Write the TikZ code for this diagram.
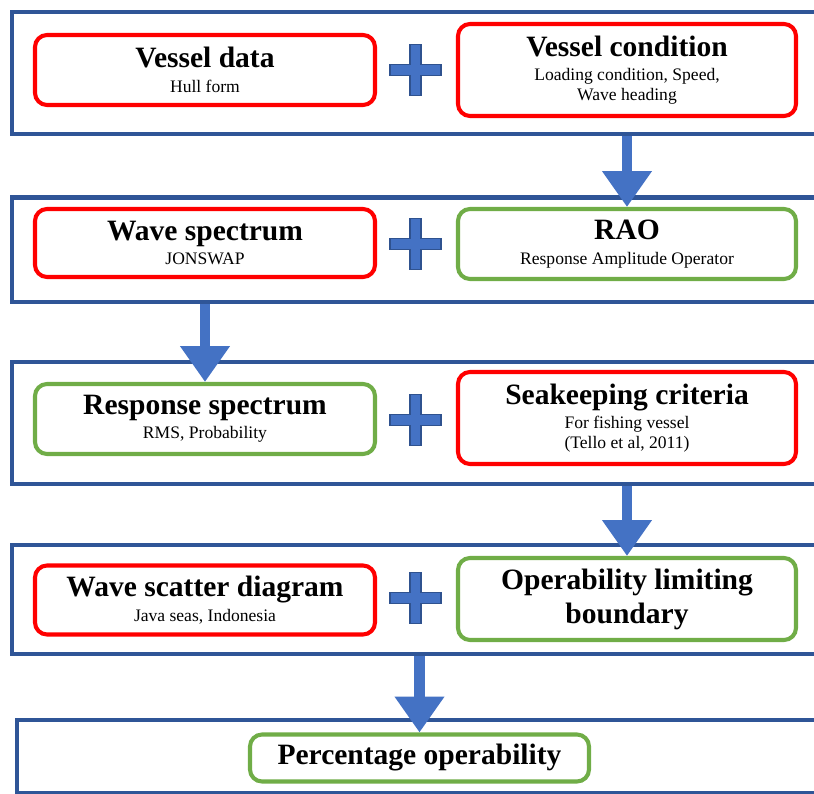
\documentclass[tikz,border=0pt]{standalone}
\usepackage{fontspec}
\setmainfont{Liberation Serif}
\usetikzlibrary{arrows.meta, positioning}
\definecolor{panelblue}{RGB}{47, 85, 151}
\definecolor{flowblue}{RGB}{68, 114, 196}
\definecolor{flowedge}{RGB}{47, 82, 143}
\definecolor{boxred}{RGB}{255, 0, 0}
\definecolor{boxgreen}{RGB}{112, 173, 71}

\newcommand{\hd}[1]{{\fontsize{16.8}{19}\selectfont\bfseries #1}}

\tikzset{
  panel/.style={draw=panelblue, line width=2.3pt, anchor=north west, minimum width=16.5cm, inner sep=0pt},
  inbox/.style={rounded corners=0.24cm, line width=2.3pt, fill=white, align=center, minimum width=6.8cm, inner sep=2pt, font=\fontsize{10}{11.4}\selectfont},
  redbox/.style={inbox, draw=boxred},
  greenbox/.style={inbox, draw=boxgreen},
  flow/.style={draw=flowblue, line width=5.7pt, -{Triangle[width=27pt, length=20.4pt, fill=flowblue]}},
  plussign/.style={fill=flowblue, draw=flowedge, line width=0.6pt}
}

\begin{document}
\begin{tikzpicture}
\useasboundingbox (0,0) rectangle (16.28,-15.88);

% Stage panels
\node[panel, minimum height=2.44cm] (p1) at (0.2,-0.2) {};
\node[panel, minimum height=2.09cm] (p2) at (0.2,-3.91) {};
\node[panel, minimum height=2.44cm] (p3) at (0.2,-7.2) {};
\node[panel, minimum height=2.18cm] (p4) at (0.2,-10.86) {};
\node[panel, minimum height=1.46cm] (p5) at (0.3,-14.36) {};

% Inputs and results
\node[redbox, minimum height=1.4cm] (vdata) at (4.1,-1.4) {\hd{Vessel data}\\[2.5pt]Hull form};
\node[redbox, minimum width=6.76cm, minimum height=1.84cm] (vcond) at (12.54,-1.4) {\hd{Vessel condition}\\[2.5pt]Loading condition, Speed,\\Wave heading};
\node[redbox, minimum height=1.36cm] (wspec) at (4.1,-4.86) {\hd{Wave spectrum}\\[2.5pt]JONSWAP};
\node[greenbox, minimum width=6.76cm, minimum height=1.4cm] (rao) at (12.54,-4.88) {\hd{RAO}\\[2.5pt]Response Amplitude Operator};
\node[greenbox, minimum height=1.4cm] (rspec) at (4.1,-8.38) {\hd{Response spectrum}\\[2.5pt]RMS, Probability};
\node[redbox, minimum width=6.76cm, minimum height=1.84cm] (crit) at (12.54,-8.36) {\hd{Seakeeping criteria}\\[2.5pt]For fishing vessel\\(Tello et al, 2011)};
\node[redbox, minimum height=1.38cm] (scatter) at (4.1,-12.0) {\hd{Wave scatter diagram}\\[2.5pt]Java seas, Indonesia};
\node[greenbox, minimum width=6.76cm, minimum height=1.64cm] (olb) at (12.54,-11.98) {\hd{Operability limiting}\\[3pt]\hd{boundary}};
\node[greenbox, minimum width=6.78cm, minimum height=0.94cm] (perc) at (8.39,-15.16) {\hd{Percentage operability}};

% Plus signs
\foreach \y in {-1.4,-4.88,-8.4,-11.96}
  \filldraw[plussign] (8.31,\y) ++(-0.11,0.51) -- ++(0.22,0) -- ++(0,-0.4) -- ++(0.4,0) -- ++(0,-0.22) -- ++(-0.4,0) -- ++(0,-0.4) -- ++(-0.22,0) -- ++(0,0.4) -- ++(-0.4,0) -- ++(0,0.22) -- ++(0.4,0) -- cycle;

% Flow arrows
\draw[flow] (rao.north |- p1.south) -- (rao.north);
\draw[flow] (wspec.south |- p2.south) -- (rspec.north);
\draw[flow] (olb.north |- p3.south) -- (olb.north);
\draw[flow] (perc.north |- p4.south) -- (perc.north);
\end{tikzpicture}
\end{document}
